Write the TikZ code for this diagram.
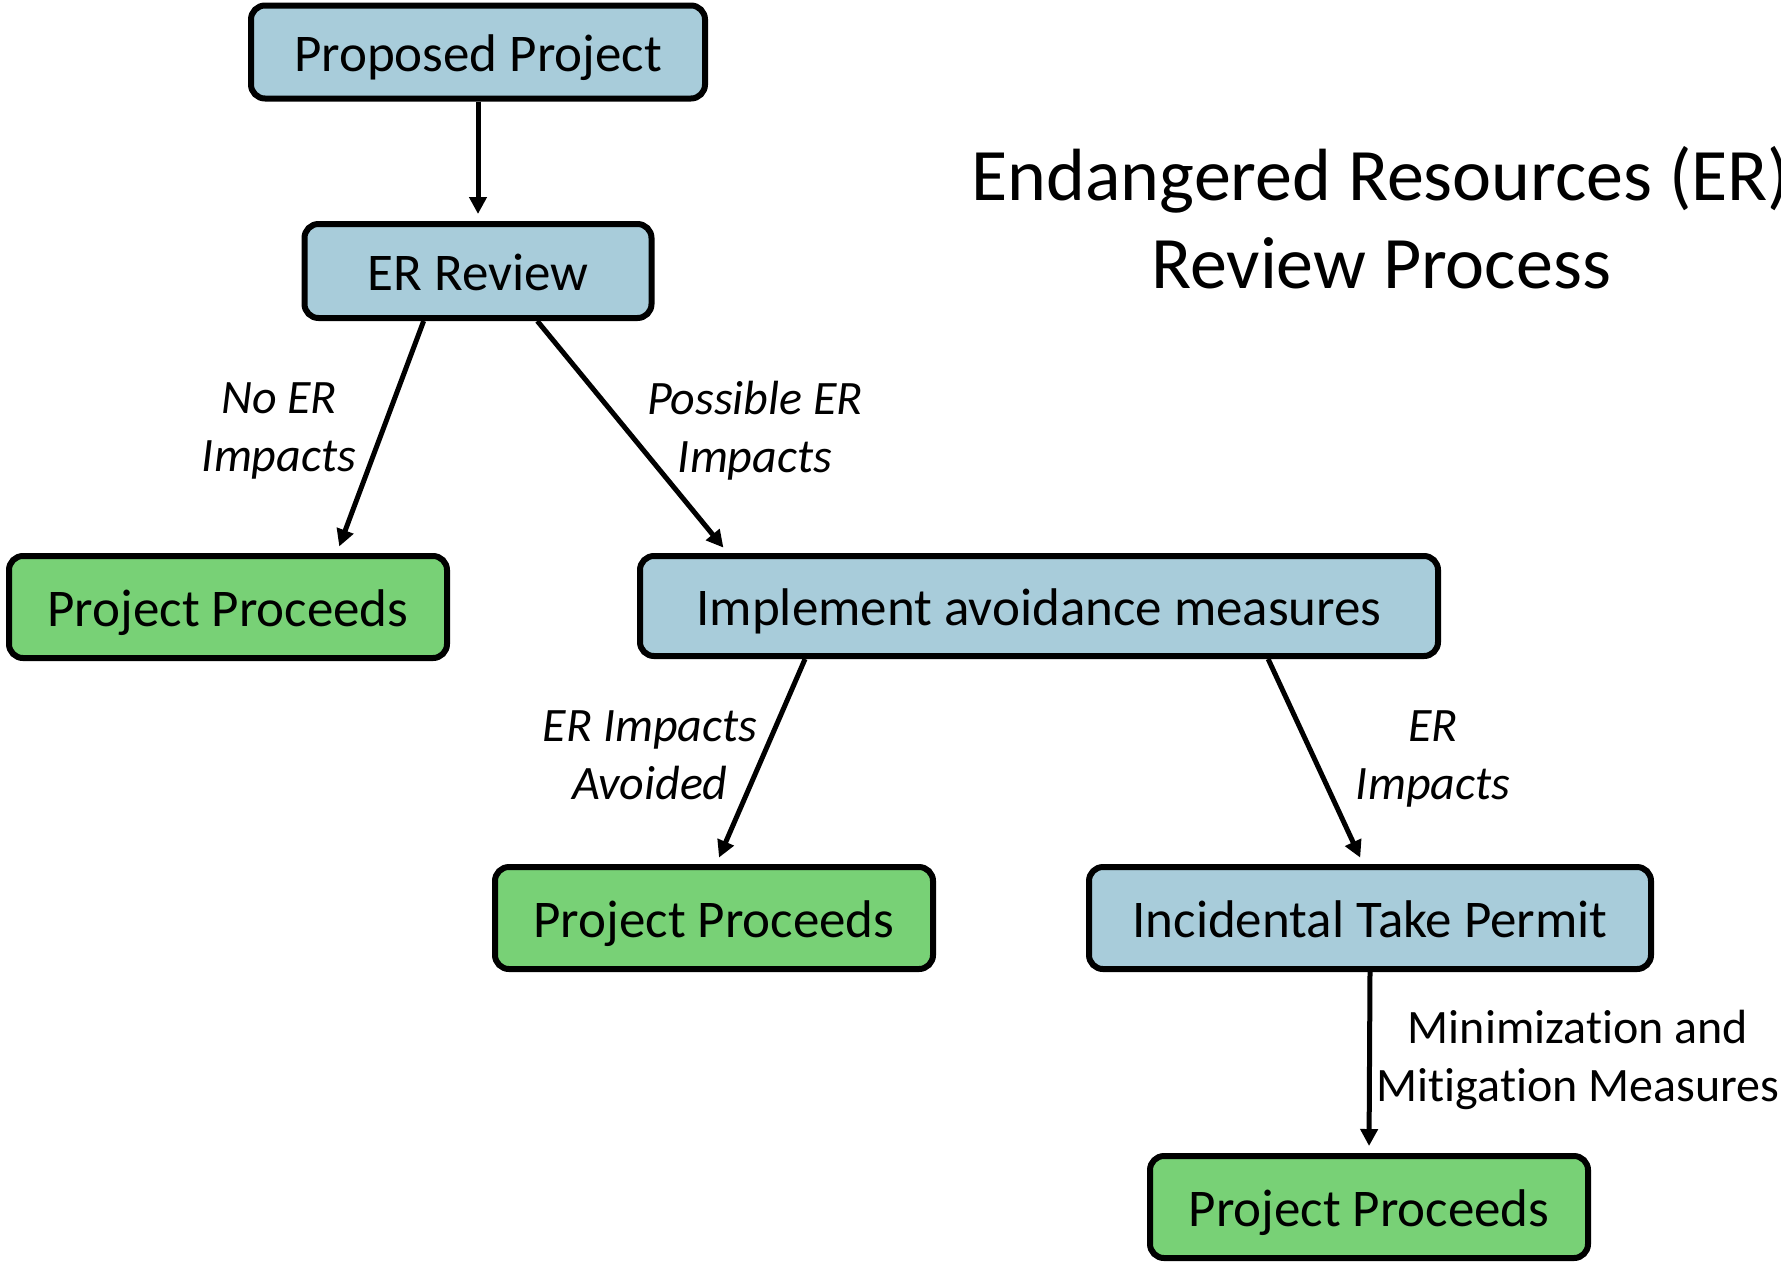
\documentclass[tikz,border=0pt]{standalone}
\usepackage{fontspec}
\setmainfont{Carlito}[Ligatures=NoCommon]
\usetikzlibrary{arrows.meta,calc}

\definecolor{boxblue}{RGB}{168,204,218}
\definecolor{boxgreen}{RGB}{120,209,118}

\tikzset{
  stepbox/.style={draw=black, line width=3pt, rounded corners=7pt, fill=boxblue,
    font=\fontsize{26.5}{31}\selectfont, inner sep=0pt, text height=22.5pt, text depth=2.6pt},
  donebox/.style={stepbox, fill=boxgreen},
  flow/.style={-{Triangle[length=8.5pt,width=8.5pt]}, line width=2.5pt, shorten >=3.5pt},
  branch/.style={font=\fontsize{24}{29}\selectfont\itshape, align=center},
}

\begin{document}
\begin{tikzpicture}[x=0.5pt, y=-0.5pt]

  \useasboundingbox (0,0) rectangle (1781,1264);

  % boxes
  \node[stepbox, minimum width=227pt, minimum height=46.5pt] (pp) at (478,52) {Proposed Project};
  \node[stepbox, minimum width=173.5pt, minimum height=47pt] (er) at (478,271) {ER Review};
  \node[donebox, minimum width=219pt, minimum height=51pt] (ppl) at (228,607) {Project Proceeds};
  \node[stepbox, minimum width=399pt, minimum height=50pt] (impl) at (1039,606) {Implement avoidance measures};
  \node[donebox, minimum width=219pt, minimum height=51pt] (ppm) at (714,918) {Project Proceeds};
  \node[stepbox, minimum width=281pt, minimum height=51pt] (itp) at (1370,918) {Incidental Take Permit};
  \node[donebox, minimum width=219pt, minimum height=51pt] (ppb) at (1369,1207) {Project Proceeds};

  \node[font=\fontsize{37}{44}\selectfont, align=center] (title) at (1381,218) {Endangered Resources (ER)\\Review Process};

  % arrows
  \draw[flow] (pp.south) -- (er.north);
  \draw[flow] ($(er.south west)!.346!(er.south east)$) -- ($(ppl.north west)!.745!(ppl.north east)$);
  \draw[flow] ($(er.south west)!.668!(er.south east)$) -- ($(impl.north west)!.113!(impl.north east)$);
  \draw[flow] ($(impl.south west)!.209!(impl.south east)$) -- ($(ppm.north west)!.505!(ppm.north east)$);
  \draw[flow] ($(impl.south west)!.785!(impl.south east)$) -- ($(itp.north west)!.488!(itp.north east)$);
  \draw[flow] (itp.south) -- (ppb.north);

  % labels
  \node[branch] (noer) at (279,431) {No ER\\Impacts};
  \node[branch] (possible) at (755,431) {Possible ER\\Impacts};
  \node[branch] (avoided) at (650,755) {ER Impacts\\Avoided};
  \node[branch] (impacts) at (1433,759) {ER\\Impacts};
  \node[font=\fontsize{24}{29}\selectfont, align=center] (mitig) at (1578,1060) {Minimization and\\Mitigation Measures};

\end{tikzpicture}
\end{document}
